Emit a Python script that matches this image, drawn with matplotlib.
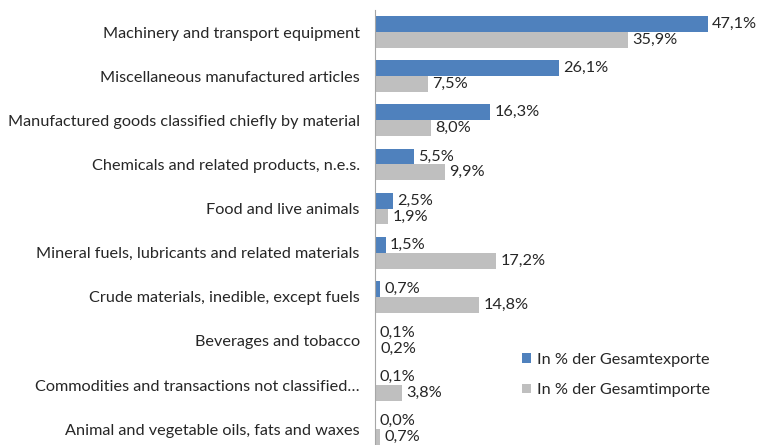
import matplotlib.pyplot as plt
import numpy as np

plt.rcParams["font.family"] = ["Lato", "DejaVu Sans"]

categories = [
    "Machinery and transport equipment",
    "Miscellaneous manufactured articles",
    "Manufactured goods classified chiefly by material",
    "Chemicals and related products, n.e.s.",
    "Food and live animals",
    "Mineral fuels, lubricants and related materials",
    "Crude materials, inedible, except fuels",
    "Beverages and tobacco",
    "Commodities and transactions not classified\u2026",
    "Animal and vegetable oils, fats and waxes",
]
exports = [47.1, 26.1, 16.3, 5.5, 2.5, 1.5, 0.7, 0.1, 0.1, 0.0]
imports = [35.9, 7.5, 8.0, 9.9, 1.9, 17.2, 14.8, 0.2, 3.8, 0.7]
series_names = ["In % der Gesamtexporte", "In % der Gesamtimporte"]

BLUE = "#4F81BD"
GRAY = "#BFBFBF"
TEXT = "#262626"
FS = 11.7


def fmt(v):
    return f"{v:.1f}%".replace(".", ",")


fig = plt.figure(figsize=(7.58, 4.45), dpi=100)
ax = fig.add_axes([375 / 758, 0.0, (728 - 375) / 758, (445 - 10) / 445])

y = np.arange(len(categories))
h = 0.36
b1 = ax.barh(y - h / 2, exports, height=h, color=BLUE, label=series_names[0])
b2 = ax.barh(y + h / 2, imports, height=h, color=GRAY, label=series_names[1])

for bars, vals in ((b1, exports), (b2, imports)):
    for bar, v in zip(bars, vals):
        ax.annotate(fmt(v), (bar.get_width(), bar.get_y() + bar.get_height() / 2),
                    xytext=(3, 0), textcoords="offset points",
                    va="center", ha="left", fontsize=FS, color=TEXT)

ax.set_xlim(0, 50)
ax.set_ylim(9.36, -0.5)
ax.set_yticks(y)
ax.set_yticklabels(categories, fontsize=FS, color=TEXT)
ax.tick_params(axis="y", length=0, pad=11)
ax.set_xticks([])
for side in ("top", "right", "bottom"):
    ax.spines[side].set_visible(False)
ax.spines["left"].set_color("#A6A6A6")

ax.legend(loc="upper left", bbox_to_anchor=(0.375, 0.245), frameon=False,
          fontsize=FS, handlelength=0.55, handleheight=0.55, handletextpad=0.4,
          labelspacing=1.0, labelcolor=TEXT)

fig.savefig("out.png", dpi=100)
